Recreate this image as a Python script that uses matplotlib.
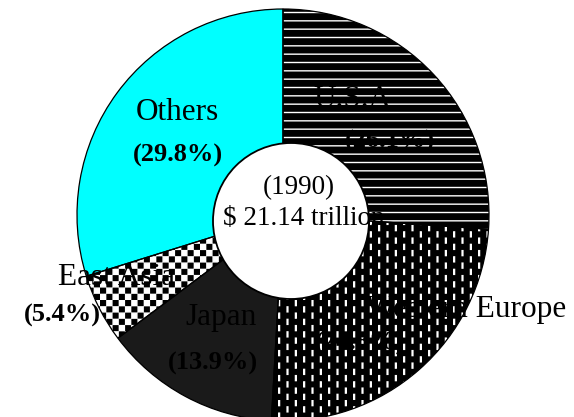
import warnings
warnings.filterwarnings("ignore")
import numpy as np
import matplotlib
matplotlib.use("Agg")
import matplotlib.pyplot as plt
import matplotlib.hatch as mhatch
from matplotlib.path import Path
from matplotlib.patches import Circle

# ---------------- data ----------------
regions = ["U.S.A", "Western Europe", "Japan", "East Asia", "Others"]
shares = [26.1, 24.8, 13.9, 5.4, 29.8]
year_label = "(1990)"
total_label = "$ 21.14 trillion"

# ---------------- custom hatches ----------------
class CheckerHatch(mhatch.HatchPatternBase):
    def __init__(self, hatch, density):
        self.n = 16 if 'c' in hatch else 0
        self.num_vertices = (self.n * self.n // 2) * 5
    def set_vertices_and_codes(self, vertices, codes):
        n = self.n
        s = 1.0 / n
        e = 0.006
        k = 0
        for i in range(n):
            for j in range(n):
                if (i + j) % 2 == 0:
                    x0, y0 = i * s + e, j * s + e
                    x1, y1 = (i + 1) * s - e, (j + 1) * s - e
                    vertices[k:k + 5] = [(x0, y0), (x1, y0), (x1, y1), (x0, y1), (x0, y0)]
                    codes[k] = Path.MOVETO
                    codes[k + 1:k + 4] = Path.LINETO
                    codes[k + 4] = Path.CLOSEPOLY
                    k += 5

class DashHatch(mhatch.HatchPatternBase):
    def __init__(self, hatch, density):
        self.cols = 12 if 'd' in hatch else 0
        self.rows = 8
        self.num_vertices = self.cols * self.rows * 5
    def set_vertices_and_codes(self, vertices, codes):
        w, h = 0.008, 0.05
        k = 0
        for i in range(self.cols):
            xc = (i + 0.5) / self.cols
            off = 0.5 / self.rows if i % 2 else 0.0
            for j in range(self.rows):
                yc = (j + 0.25) / self.rows + off
                yc = yc % 1.0
                y0 = yc - h / 2
                y1 = yc + h / 2
                if y0 < 0:
                    y0, y1 = 0.0, h
                if y1 > 1:
                    y0, y1 = 1 - h, 1.0
                x0, x1 = xc - w / 2, xc + w / 2
                vertices[k:k + 5] = [(x0, y0), (x1, y0), (x1, y1), (x0, y1), (x0, y0)]
                codes[k] = Path.MOVETO
                codes[k + 1:k + 4] = Path.LINETO
                codes[k + 4] = Path.CLOSEPOLY
                k += 5

mhatch._hatch_types.append(CheckerHatch)
mhatch._hatch_types.append(DashHatch)

plt.rcParams['hatch.linewidth'] = 1.0
plt.rcParams['font.family'] = ['Liberation Serif', 'DejaVu Serif']

# ---------------- figure ----------------
W, H = 574, 417
fig = plt.figure(figsize=(W / 100, H / 100), dpi=100)
ax = fig.add_axes([0, 0, 1, 1])

center = (283, H - 215)
radius = 206
face = ['black', 'black', '#1a1a1a', 'black', '#00ffff']
hatches = ['--', 'd', None, 'c', None]

wedges, _ = ax.pie(shares, startangle=90, counterclock=False, center=center,
                   radius=radius, colors=face,
                   wedgeprops=dict(edgecolor='white', linewidth=0))
for w, hp in zip(wedges, hatches):
    if hp:
        w.set_hatch(hp)

# outlines
ax.pie(shares, startangle=90, counterclock=False, center=center, radius=radius,
       colors=['none'] * len(shares),
       wedgeprops=dict(edgecolor='black', linewidth=0.9, fill=False))

# centre hole
hole = Circle((291, H - 221), 78, facecolor='white', edgecolor='black',
              linewidth=1.3, zorder=5)
ax.add_patch(hole)

# labels
name_pos = [(352, 107), (466, 317), (221, 325), (116, 285), (177, 120)]
pct_pos = [(390, 148), (360, 350), (213, 370), (62, 322), (178, 162)]
for name, val, (nx, ny), (px, py) in zip(regions, shares, name_pos, pct_pos):
    ax.text(nx, H - ny, name, ha='center', va='baseline', fontsize=22.5,
            color='black', zorder=6)
    ax.text(px, H - py, f"({val:.1f}%)", ha='center', va='baseline',
            fontsize=19, fontweight='bold', color='black', zorder=6)

ax.text(299, H - 194, year_label, ha='center', va='baseline', fontsize=19.5, zorder=6)
ax.text(223, H - 225, total_label, ha='left', va='baseline', fontsize=19.5, zorder=6)

ax.set_xlim(0, W)
ax.set_ylim(0, H)
ax.set_aspect('equal')
ax.axis('off')

fig.savefig('out.png', dpi=100)
